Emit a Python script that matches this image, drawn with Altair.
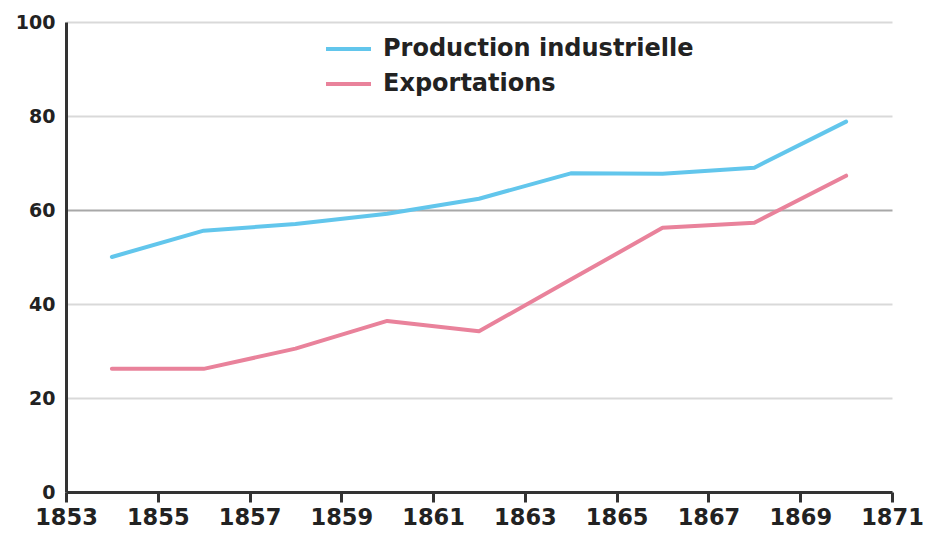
import altair as alt
import pandas as pd

years = [1854, 1856, 1858, 1860, 1862, 1864, 1866, 1868, 1870]
production = [50, 55.6, 57, 59.2, 62.4, 67.8, 67.7, 69, 78.8]
exportations = [26.2, 26.2, 30.5, 36.4, 34.2, 45.2, 56.2, 57.3, 67.3]
series_names = ["Production industrielle", "Exportations"]
series_colors = ["#62c6ec", "#e9829b"]
x_ticks = list(range(1853, 1872, 2))
y_ticks = [0, 20, 40, 60, 80, 100]

rows = []
for y, p, e in zip(years, production, exportations):
    rows.append({"annee": y, "valeur": p, "serie": series_names[0]})
    rows.append({"annee": y, "valeur": e, "serie": series_names[1]})
df = pd.DataFrame(rows)

FONT = "DejaVu Sans"

chart = alt.Chart(df).mark_line(strokeWidth=4, strokeCap="round", strokeJoin="round").encode(
    x=alt.X("annee:Q",
            scale=alt.Scale(domain=[1853, 1871], nice=False, zero=False),
            axis=alt.Axis(values=x_ticks, format="d", title=None, grid=False,
                          domainColor="#333", domainWidth=3,
                          tickColor="#333", tickWidth=3, tickSize=10,
                          labelFont=FONT, labelFontWeight="bold", labelFontSize=22.5,
                          labelColor="#222", labelPadding=4,
                          labelOverlap=False, labelFlush=False)),
    y=alt.Y("valeur:Q",
            scale=alt.Scale(domain=[0, 100], nice=False),
            axis=alt.Axis(values=y_ticks, title=None, ticks=False,
                          domainColor="#333", domainWidth=3,
                          grid=True, gridWidth=2,
                          gridColor={"condition": {"test": "datum.value === 60", "value": "#a8a8a8"}, "value": "#d9d9d9"},
                          labelFont=FONT, labelFontWeight="bold", labelFontSize=19,
                          labelColor="#222", labelPadding=11, labelOverlap=False)),
    color=alt.Color("serie:N",
                    scale=alt.Scale(domain=series_names, range=series_colors),
                    legend=alt.Legend(title=None, orient="none", legendX=258, legendY=16,
                                      symbolType="stroke", symbolSize=2025, symbolStrokeWidth=4,
                                      clipHeight=22,
                                      labelFont=FONT, labelFontWeight="bold", labelFontSize=24,
                                      labelColor="#222", labelOffset=10, rowPadding=11,
                                      padding=0, labelLimit=400)),
).properties(
    width=826, height=470,
    autosize=alt.AutoSizeParams(type="none"),
    padding={"left": 58, "top": 14, "right": 32, "bottom": 36},
).configure(background="white").configure_view(stroke=None)

chart.save("out.html", embed_options={"renderer": "svg", "actions": False})
